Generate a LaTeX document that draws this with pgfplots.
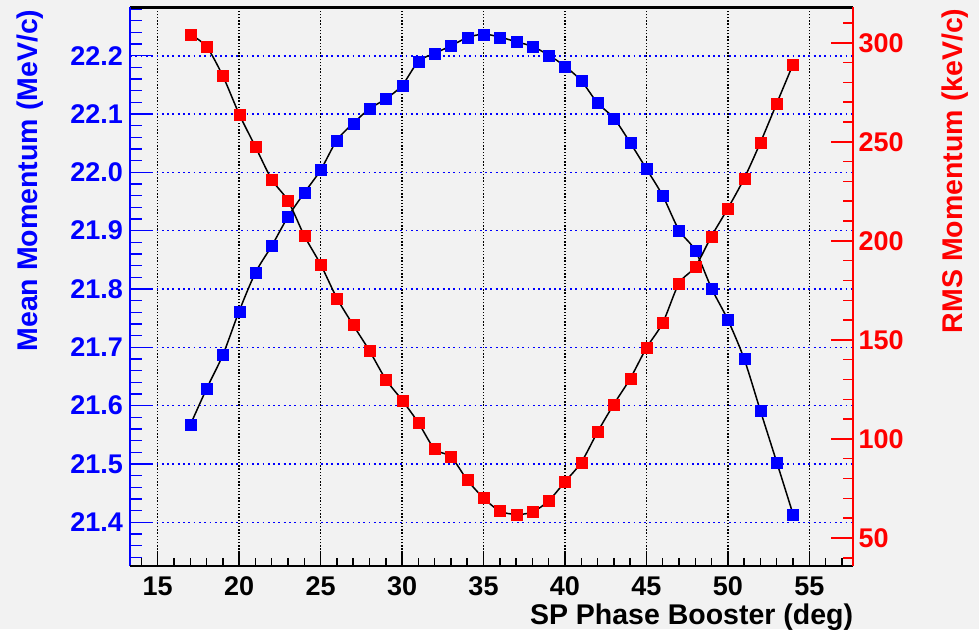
\documentclass[border=0pt]{standalone}
\usepackage{fontspec}
\setmainfont{Liberation Sans}
\usepackage{pgfplots}
\pgfplotsset{compat=1.18}
\definecolor{canvas}{HTML}{F2F2F2}
\definecolor{meanblue}{HTML}{0000FF}
\definecolor{rmsred}{HTML}{FF0000}

% Mean momentum (MeV/c) vs. booster phase (deg)
\pgfplotstableread{
phase mean
17 21.567
18 21.629
19 21.687
20 21.762
21 21.828
22 21.874
23 21.924
24 21.965
25 22.004
26 22.055
27 22.084
28 22.109
29 22.126
30 22.149
31 22.190
32 22.204
33 22.217
34 22.231
35 22.237
36 22.232
37 22.224
38 22.216
39 22.201
40 22.182
41 22.157
42 22.119
43 22.093
44 22.051
45 22.006
46 21.960
47 21.901
48 21.866
49 21.801
50 21.747
51 21.680
52 21.591
53 21.503
54 21.414
}\meantable

% RMS momentum spread (keV/c) vs. booster phase (deg)
\pgfplotstableread{
phase rms
17 304.2
18 298.0
19 283.2
20 264.0
21 247.5
22 231.0
23 220.2
24 202.6
25 188.1
26 171.1
27 157.5
28 144.5
29 130.1
30 119.6
31 108.2
32 94.9
33 91.0
34 79.3
35 70.2
36 63.6
37 61.9
38 63.1
39 68.8
40 78.4
41 88.2
42 103.5
43 117.5
44 130.4
45 145.9
46 158.6
47 178.5
48 186.9
49 202.4
50 216.4
51 231.5
52 249.7
53 269.4
54 289.1
}\rmstable

\newcommand{\tickfont}{\fontsize{27}{27}\selectfont\bfseries}
\newcommand{\titlefont}{\fontsize{28.5}{28.5}\selectfont\bfseries}

\pgfplotsset{
  rootframe/.style={
    at={(130pt,63.3pt)}, anchor=south west,
    scale only axis, width=723.3pt, height=558.2pt,
    xmin=13.3, xmax=57.7,
    tick align=inside,
    axis line style={draw=none},
    /pgf/number format/assume math mode=true,
    clip=false,
  },
}

\begin{document}
\begin{tikzpicture}
\fill[canvas] (0pt,0pt) rectangle (979pt,629pt);

% left axis: mean momentum, with the grid, the frame top and the left spine
\begin{axis}[
  rootframe,
  ymin=21.3256, ymax=22.2827,
  xtick={15,20,...,55},
  xmajorticks=false, xminorticks=false,
  xticklabels={},
  ytick pos=left,
  ytick={21.4,21.5,21.6,21.7,21.8,21.9,22.0,22.1,22.2},
  minor ytick={21.34,21.36,...,22.285},
  major tick length=23pt, minor tick length=12pt,
  every tick/.style={meanblue, line width=1.5pt},
  xmajorgrids, ymajorgrids,
  major x grid style={black, line width=1.6pt, dash pattern=on 1.4pt off 1.8pt},
  major y grid style={meanblue, line width=1.6pt, dash pattern=on 1.8pt off 3.5pt},
  yticklabel style={font=\tickfont, meanblue, anchor=east, inner sep=0pt, xshift=-7pt,
    /pgf/number format/.cd, fixed, fixed zerofill, precision=1},
  extra description/.code={
    \draw[black, line width=2.2pt] (rel axis cs:0,1) -- (rel axis cs:1,1);
    \draw[meanblue, line width=2pt] (rel axis cs:0,0) -- (rel axis cs:0,1);
  },
]
% tick marks along the left spine
\pgfplotsinvokeforeach{21.34,21.36,...,22.285}{
  \draw[meanblue, line width=1.5pt] (axis cs:13.3,#1) -- ++(12pt,0pt);
}
\pgfplotsinvokeforeach{21.4,21.5,21.6,21.7,21.8,21.9,22.0,22.1,22.2}{
  \draw[meanblue, line width=1.5pt] (axis cs:13.3,#1) -- ++(23pt,0pt);
}
\addplot[black, line width=1.5pt, smooth, mark=square*,
  mark size=5.5pt, mark options={solid, fill=meanblue, draw=meanblue, line width=0.1pt}]
  table[x=phase, y=mean] {\meantable};
\end{axis}

% bottom axis: booster phase
\begin{axis}[
  rootframe,
  ymin=0, ymax=1,
  ytick=\empty,
  xtick pos=bottom,
  xtick={15,20,...,55},
  minor xtick={14,...,57},
  major tick length=15pt, minor tick length=8pt,
  every tick/.style={black, line width=1.5pt},
  xticklabel style={font=\tickfont, black, anchor=base, inner sep=0pt, yshift=-29.5pt},
  extra description/.code={
    \draw[black, line width=2.2pt] (rel axis cs:0,0) -- (rel axis cs:1,0);
  },
]
% tick marks along the bottom spine
\pgfplotsinvokeforeach{14,...,57}{
  \draw[black, line width=1.5pt] (axis cs:#1,0) -- ++(0pt,8pt);
}
\pgfplotsinvokeforeach{15,20,...,55}{
  \draw[black, line width=1.5pt] (axis cs:#1,0) -- ++(0pt,15pt);
}
\end{axis}

% right axis: RMS momentum
\begin{axis}[
  rootframe,
  ymin=36, ymax=317.8,
  xtick=\empty,
  ytick pos=right,
  ytick={50,100,...,300},
  minor ytick={40,50,...,310},
  major tick length=22pt, minor tick length=10pt,
  every tick/.style={rmsred, line width=1.5pt},
  yticklabel style={font=\tickfont, rmsred, anchor=west, inner sep=0pt, xshift=5pt},
  extra description/.code={
    \draw[rmsred, line width=2pt] (rel axis cs:1,0) -- (rel axis cs:1,1);
  },
]
% tick marks along the right spine
\pgfplotsinvokeforeach{40,50,...,310}{
  \draw[rmsred, line width=1.5pt] (axis cs:57.7,#1) -- ++(-10pt,0pt);
}
\pgfplotsinvokeforeach{50,100,...,300}{
  \draw[rmsred, line width=1.5pt] (axis cs:57.7,#1) -- ++(-22pt,0pt);
}
\addplot[black, line width=1.5pt, smooth, mark=square*,
  mark size=5.5pt, mark options={solid, fill=rmsred, draw=rmsred, line width=0.1pt}]
  table[x=phase, y=rms] {\rmstable};
\end{axis}

\node[font=\titlefont, anchor=base east, inner sep=0pt] at (853.3pt,5pt) {SP Phase Booster (deg)};
\node[font=\titlefont, text=meanblue, anchor=base east, inner sep=0pt, rotate=90] at (37.7pt,619.7pt) {Mean Momentum (MeV/c)};
\node[font=\titlefont, text=rmsred, anchor=base east, inner sep=0pt, rotate=90] at (962.7pt,620.7pt) {RMS Momentum (keV/c)};
\end{tikzpicture}
\end{document}
